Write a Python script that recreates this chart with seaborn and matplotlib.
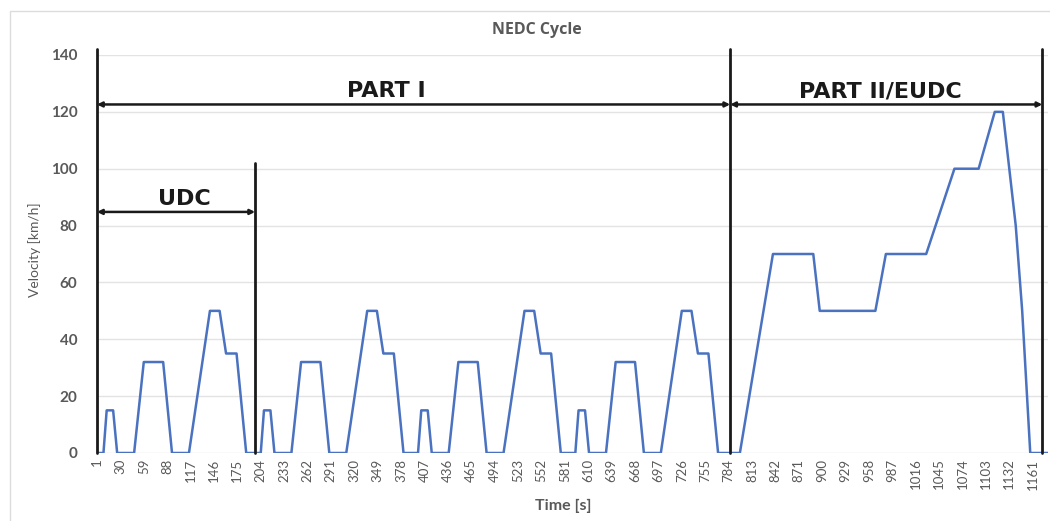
import matplotlib
matplotlib.use("Agg")
import matplotlib.pyplot as plt
import pandas as pd
import seaborn as sns
from matplotlib.patches import Rectangle

# NEDC speed profile breakpoints (time index in s, speed in km/h)
time_s = [1, 9, 13, 21, 26, 47, 59, 83, 94, 115, 141, 153, 161, 174, 186,
          204, 208, 216, 221, 242, 254, 278, 289, 310, 336, 348, 356, 369, 381,
          399, 403, 411, 416, 437, 449, 473, 484, 505, 531, 543, 551, 564, 576,
          594, 598, 606, 611, 632, 644, 668, 679, 700, 726, 738, 746, 759, 771,
          798, 839, 889, 897, 966, 979, 1029, 1064, 1094, 1114, 1124, 1140, 1148, 1158, 1180]
speed_kmh = [0, 0, 15, 15, 0, 0, 32, 32, 0, 0, 50, 50, 35, 35, 0,
             0, 15, 15, 0, 0, 32, 32, 0, 0, 50, 50, 35, 35, 0,
             0, 15, 15, 0, 0, 32, 32, 0, 0, 50, 50, 35, 35, 0,
             0, 15, 15, 0, 0, 32, 32, 0, 0, 50, 50, 35, 35, 0,
             0, 70, 70, 50, 50, 70, 70, 100, 100, 120, 120, 80, 50, 0, 0]

x_ticks = [1, 30, 59, 88, 117, 146, 175, 204, 233, 262, 291, 320, 349, 378, 407,
           436, 465, 494, 523, 552, 581, 610, 639, 668, 697, 726, 755, 784, 813,
           842, 871, 900, 929, 958, 987, 1016, 1045, 1074, 1103, 1132, 1161]
y_ticks = [0, 20, 40, 60, 80, 100, 120, 140]

# section markers: boundaries and labels
part_bounds = [1, 197, 786, 1173]
sections = ["UDC", "PART I", "PART II/EUDC"]

df = pd.DataFrame({"time": time_s, "speed": speed_kmh})

sns.set_style("white")
plt.rcParams["font.family"] = ["Lato", "DejaVu Sans"]

fig = plt.figure(figsize=(10.5, 5.21), dpi=100)
ax = fig.add_axes([97 / 1050, 68 / 521, 951 / 1050, 398 / 521])

sns.lineplot(data=df, x="time", y="speed", color="#4a72c0", linewidth=1.8, ax=ax)

ax.set_xlim(1, 1180)
ax.set_ylim(0, 140)
ax.set_xticks(x_ticks)
ax.set_xticklabels([str(t) for t in x_ticks], rotation=90, fontsize=9.5, color="#595959")
ax.set_yticks(y_ticks)
ax.set_yticklabels([str(v) for v in y_ticks], fontsize=11, color="#595959", fontweight="bold")
ax.tick_params(axis="both", length=0)
ax.tick_params(axis="y", pad=14)
ax.tick_params(axis="x", pad=4)
ax.set_xlabel("")
ax.set_ylabel("")
ax.grid(axis="y", color="#e3e3e3", linewidth=1)
ax.set_axisbelow(True)
for s in ax.spines.values():
    s.set_visible(False)

dark = "#1a1a1a"
# vertical section lines
ax.plot([part_bounds[0]] * 2, [0, 142], color=dark, lw=2, clip_on=False)
ax.plot([part_bounds[1]] * 2, [0, 102], color=dark, lw=2, clip_on=False)
ax.plot([part_bounds[2]] * 2, [0, 142], color=dark, lw=2, clip_on=False)
ax.plot([part_bounds[3]] * 2, [0, 142], color=dark, lw=2, clip_on=False)

arrow = dict(arrowstyle="<|-|>", color=dark, lw=1.8, mutation_scale=7, shrinkA=0, shrinkB=0)
ax.annotate("", xy=(part_bounds[0], 84.8), xytext=(part_bounds[1], 84.8), arrowprops=arrow)
ax.annotate("", xy=(part_bounds[0], 122.6), xytext=(part_bounds[2], 122.6), arrowprops=arrow)
ax.annotate("", xy=(part_bounds[2], 122.6), xytext=(part_bounds[3], 122.6), arrowprops=arrow)

big = ["DejaVu Sans"]
ax.text(109, 89.5, sections[0], ha="center", va="center", fontsize=16, fontweight="bold",
        color=dark, family=big)
ax.text(360, 127.3, sections[1], ha="center", va="center", fontsize=16, fontweight="bold",
        color=dark, family=big)
ax.text(972, 127.3, sections[2], ha="center", va="center", fontsize=16, fontweight="bold",
        color=dark, family=big)

fig.text(537 / 1050, 1 - 30 / 521, "NEDC Cycle", ha="center", va="center",
         fontsize=11.5, color="#595959", fontweight="bold", family=["Open Sans", "DejaVu Sans"])
fig.text(35 / 1050, 1 - 250 / 521, "Velocity [km/h]", ha="center", va="center",
         rotation=90, fontsize=10, color="#595959")
fig.text(563 / 1050, 1 - 506 / 521, "Time [s]", ha="center", va="center",
         fontsize=11.5, color="#595959", fontweight="bold")

# light chart-area border
fig.patches.append(Rectangle((10 / 1050, -0.05), 1.2, 1 - 11 / 521 + 0.05,
                             transform=fig.transFigure, fill=False,
                             edgecolor="#dcdcdc", lw=1))

fig.savefig("out.png", dpi=100)
